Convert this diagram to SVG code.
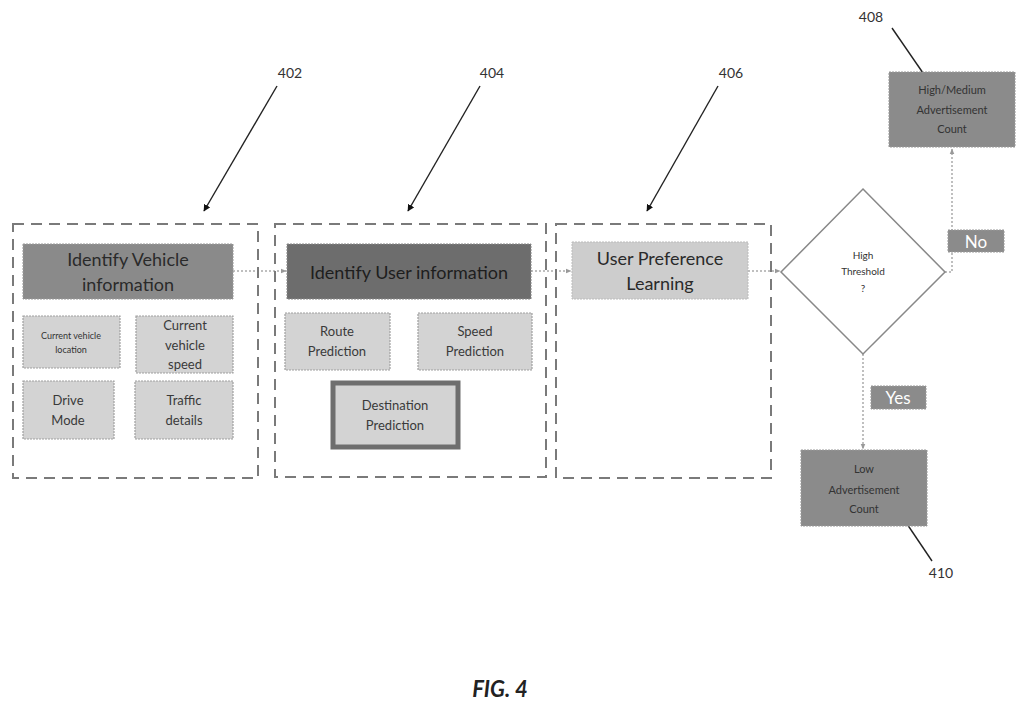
<svg xmlns="http://www.w3.org/2000/svg" width="1024" height="720" viewBox="0 0 1024 720">
<defs>
<marker id="blk" viewBox="0 0 10 10" refX="9" refY="5" markerWidth="7" markerHeight="7" orient="auto" markerUnits="userSpaceOnUse"><path d="M0,0 L10,5 L0,10 z" fill="#111"/></marker>
<marker id="gry" viewBox="0 0 10 10" refX="9" refY="5" markerWidth="6" markerHeight="6" orient="auto" markerUnits="userSpaceOnUse"><path d="M0,1 L10,5 L0,9 z" fill="#999"/></marker>
<style>
text{font-family:Lato,"Open Sans","Liberation Sans",sans-serif;fill:#333;text-anchor:middle}
.grp{fill:none;stroke:#7a7a7a;stroke-width:2;stroke-dasharray:11,7}
.sub{fill:#d3d3d3;stroke:#a0a0a0;stroke-width:1.2;stroke-dasharray:2,1}
.dark{fill:#8b8b8b;stroke:#999;stroke-width:1;stroke-dasharray:2,1}
.con{fill:none;stroke:#aaa;stroke-width:1.5;stroke-dasharray:2,2}
.lead{fill:none;stroke:#222;stroke-width:1.4}
.ref{font-size:14px;fill:#333}
.h{font-size:18px;fill:#2a2a2a}
.s{font-size:13px;fill:#3a3a3a}
.lab{font-size:17px;fill:#fff}
</style>
</defs>
<rect width="1024" height="720" fill="#fff"/>

<g id="connectors">
<line class="con" x1="233" y1="271" x2="286" y2="271" marker-end="url(#gry)"/>
<line class="con" x1="531" y1="271" x2="571" y2="271" marker-end="url(#gry)"/>
<line class="con" x1="748" y1="271" x2="780" y2="271" marker-end="url(#gry)"/>
<polyline class="con" points="945,272 952,272 952,149" marker-end="url(#gry)"/>
<line class="con" x1="863" y1="354" x2="863" y2="449" marker-end="url(#gry)"/>
<line class="lead" x1="277" y1="86" x2="204" y2="211" marker-end="url(#blk)"/>
<line class="lead" x1="480" y1="86" x2="408" y2="211" marker-end="url(#blk)"/>
<line class="lead" x1="718" y1="86" x2="647" y2="211" marker-end="url(#blk)"/>
<line class="lead" x1="892" y1="28" x2="923" y2="73"/>
<line class="lead" x1="903" y1="518" x2="932" y2="561"/>
</g>

<g id="group-402">
<rect class="grp" x="13" y="224" width="245" height="254"/>
<text class="ref" x="290" y="78">402</text>
</g>
<g id="group-404">
<rect class="grp" x="275" y="224" width="271" height="253"/>
<text class="ref" x="492" y="78">404</text>
</g>
<g id="group-406">
<rect class="grp" x="556" y="224" width="215" height="254"/>
<text class="ref" x="731" y="78">406</text>
</g>

<g id="vehicle-info">
<rect x="23" y="244" width="210" height="55" fill="#8a8a8a" stroke="#999" stroke-dasharray="2,1"/>
<text class="h" x="128" y="266">Identify Vehicle</text>
<text class="h" x="128" y="291">information</text>
</g>
<g id="current-location">
<rect class="sub" x="23" y="316" width="97" height="52"/>
<text x="71" y="339" style="font-size:9px">Current vehicle</text>
<text x="71" y="353" style="font-size:9px">location</text>
</g>
<g id="current-speed">
<rect class="sub" x="136" y="316" width="97" height="57"/>
<text class="s" x="185" y="330">Current</text>
<text class="s" x="185" y="350">vehicle</text>
<text class="s" x="185" y="369">speed</text>
</g>
<g id="drive-mode">
<rect class="sub" x="23" y="381" width="91" height="58"/>
<text class="s" x="68" y="405">Drive</text>
<text class="s" x="68" y="425">Mode</text>
</g>
<g id="traffic-details">
<rect class="sub" x="135" y="381" width="98" height="58"/>
<text class="s" x="184" y="405">Traffic</text>
<text class="s" x="184" y="425">details</text>
</g>

<g id="user-info">
<rect x="287" y="244" width="244" height="55" fill="#6d6d6d" stroke="#888" stroke-dasharray="2,1"/>
<text class="h" x="409" y="279" style="fill:#1e1e1e">Identify User information</text>
</g>
<g id="route-prediction">
<rect class="sub" x="285" y="313" width="105" height="57"/>
<text class="s" x="337" y="336">Route</text>
<text class="s" x="337" y="356">Prediction</text>
</g>
<g id="speed-prediction">
<rect class="sub" x="418" y="313" width="114" height="57"/>
<text class="s" x="475" y="336">Speed</text>
<text class="s" x="475" y="356">Prediction</text>
</g>
<g id="destination-prediction">
<rect x="333" y="383" width="125" height="64" fill="#d3d3d3" stroke="#6e6e6e" stroke-width="5"/>
<text class="s" x="395" y="410">Destination</text>
<text class="s" x="395" y="430">Prediction</text>
</g>

<g id="user-preference">
<rect x="572" y="242" width="176" height="57" fill="#cdcdcd" stroke="#bbb" stroke-dasharray="2,1"/>
<text class="h" x="660" y="265">User Preference</text>
<text class="h" x="660" y="290">Learning</text>
</g>

<g id="decision">
<polygon points="863,189 945,272 863,354 781,272" fill="#fff" stroke="#888" stroke-width="1.5"/>
<text x="863" y="259" style="font-size:10px">High</text>
<text x="863" y="275" style="font-size:10px">Threshold</text>
<text x="863" y="292" style="font-size:10px">?</text>
</g>

<g id="high-medium">
<rect class="dark" x="889" y="72" width="126" height="75"/>
<text x="952" y="94" style="font-size:11px">High/Medium</text>
<text x="952" y="114" style="font-size:11px">Advertisement</text>
<text x="952" y="133" style="font-size:11px">Count</text>
<text class="ref" x="871" y="22">408</text>
</g>
<g id="label-no">
<rect class="dark" x="948" y="230" width="56" height="22"/>
<text class="lab" x="976" y="248">No</text>
</g>
<g id="label-yes">
<rect class="dark" x="871" y="386" width="55" height="23"/>
<text class="lab" x="898" y="404">Yes</text>
</g>
<g id="low-count">
<rect class="dark" x="801" y="450" width="126" height="76"/>
<text x="864" y="473" style="font-size:11px">Low</text>
<text x="864" y="494" style="font-size:11px">Advertisement</text>
<text x="864" y="513" style="font-size:11px">Count</text>
<text class="ref" x="941" y="578">410</text>
</g>

<text x="500" y="697" style="font-size:22px;font-style:italic;font-weight:bold;fill:#222">FIG. 4</text>
</svg>
